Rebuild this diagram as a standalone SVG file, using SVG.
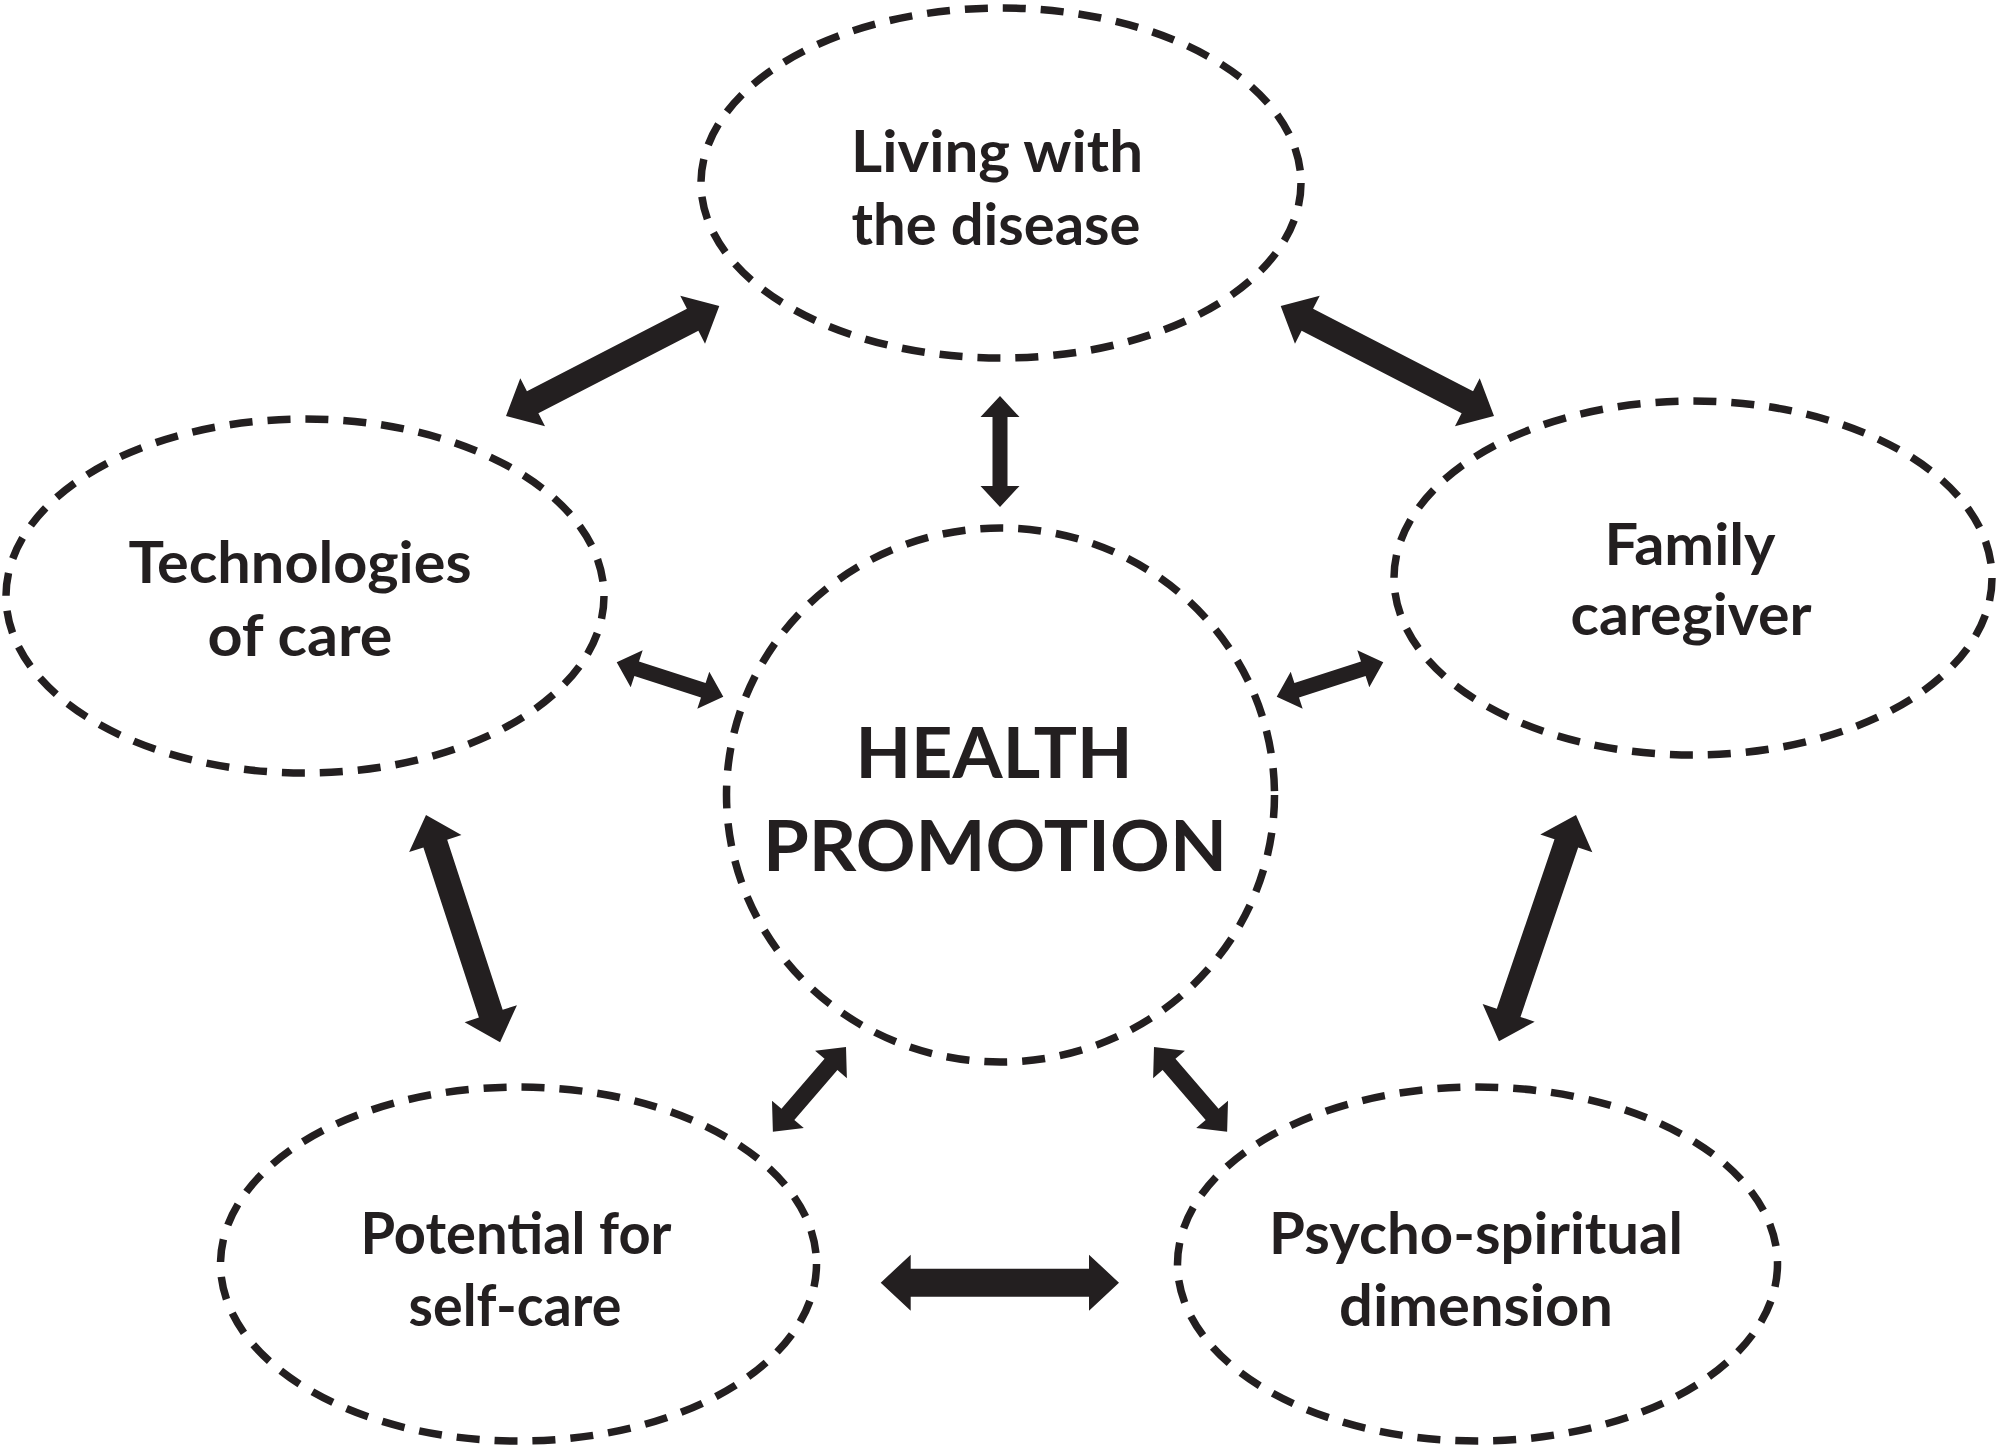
<svg xmlns="http://www.w3.org/2000/svg" width="2000" height="1450" viewBox="0 0 2000 1450">
<style>
.node ellipse{fill:none;stroke:#231f20;stroke-width:7.5;stroke-dasharray:23 15}
.lbl{font-family:Lato,"Open Sans","Liberation Sans",sans-serif;font-weight:bold;font-size:58px;fill:#231f20;text-anchor:middle}
.big{font-size:70px}
.arr path{fill:#231f20}
</style>
<rect width="2000" height="1450" fill="#ffffff"/>
<g id="living" class="node">
<ellipse cx="1001" cy="183" rx="300" ry="175"/>
<text class="lbl" x="997" y="172" textLength="292" lengthAdjust="spacingAndGlyphs">Living with</text>
<text class="lbl" x="996" y="245" textLength="289" lengthAdjust="spacingAndGlyphs">the disease</text>
</g>
<g id="technologies" class="node">
<ellipse cx="305" cy="596" rx="299" ry="177"/>
<text class="lbl" x="300" y="583" textLength="343" lengthAdjust="spacingAndGlyphs">Technologies</text>
<text class="lbl" x="300" y="656" textLength="185" lengthAdjust="spacingAndGlyphs">of care</text>
</g>
<g id="family" class="node">
<ellipse cx="1693" cy="578" rx="299" ry="177"/>
<text class="lbl" x="1690" y="565" textLength="171" lengthAdjust="spacingAndGlyphs">Family</text>
<text class="lbl" x="1691" y="635" textLength="241" lengthAdjust="spacingAndGlyphs">caregiver</text>
</g>
<g id="health" class="node">
<ellipse cx="1000.5" cy="795" rx="274" ry="267"/>
<text class="lbl big" x="994" y="778" textLength="277" lengthAdjust="spacingAndGlyphs">HEALTH</text>
<text class="lbl big" x="995" y="871" textLength="464" lengthAdjust="spacingAndGlyphs">PROMOTION</text>
</g>
<g id="potential" class="node">
<ellipse cx="518.5" cy="1264" rx="298" ry="177"/>
<text class="lbl" x="516" y="1254" textLength="311" lengthAdjust="spacingAndGlyphs">Potential for</text>
<text class="lbl" x="515" y="1326" textLength="213" lengthAdjust="spacingAndGlyphs">self-care</text>
</g>
<g id="psycho" class="node">
<ellipse cx="1477.5" cy="1264" rx="300" ry="177"/>
<text class="lbl" x="1476" y="1254" textLength="414" lengthAdjust="spacingAndGlyphs">Psycho-spiritual</text>
<text class="lbl" x="1476" y="1326" textLength="274" lengthAdjust="spacingAndGlyphs">dimension</text>
</g>
<g id="connectors" class="arr">
<path transform="translate(506,416) rotate(-27.28)" d="M0,0 L30,-27 L30,-12.5 L210,-12.5 L210,-27 L240,0 L210,27 L210,12.5 L30,12.5 L30,27 Z"/>
<path transform="translate(1494,416) rotate(-152.72)" d="M0,0 L30,-27 L30,-12.5 L210,-12.5 L210,-27 L240,0 L210,27 L210,12.5 L30,12.5 L30,27 Z"/>
<path transform="translate(1000,396) rotate(90)" d="M0,0 L21,-19.5 L21,-7.5 L90,-7.5 L90,-19.5 L111,0 L90,19.5 L90,7.5 L21,7.5 L21,19.5 Z"/>
<path transform="translate(616.7,662.3) rotate(17.88)" d="M0,0 L21,-19.5 L21,-7.5 L91,-7.5 L91,-19.5 L112,0 L91,19.5 L91,7.5 L21,7.5 L21,19.5 Z"/>
<path transform="translate(1383.3,662.3) rotate(162.12)" d="M0,0 L21,-19.5 L21,-7.5 L91,-7.5 L91,-19.5 L112,0 L91,19.5 L91,7.5 L21,7.5 L21,19.5 Z"/>
<path transform="translate(426,815) rotate(71.94)" d="M0,0 L30,-27.5 L30,-12.5 L209,-12.5 L209,-27.5 L239,0 L209,27.5 L209,12.5 L30,12.5 L30,27.5 Z"/>
<path transform="translate(1576,815) rotate(108.8)" d="M0,0 L30,-27.5 L30,-12.5 L209,-12.5 L209,-27.5 L239,0 L209,27.5 L209,12.5 L30,12.5 L30,27.5 Z"/>
<path transform="translate(846,1047) rotate(130.76)" d="M0,0 L23,-21 L23,-8.5 L89,-8.5 L89,-21 L112,0 L89,21 L89,8.5 L23,8.5 L23,21 Z"/>
<path transform="translate(1154,1047) rotate(49.24)" d="M0,0 L23,-21 L23,-8.5 L89,-8.5 L89,-21 L112,0 L89,21 L89,8.5 L23,8.5 L23,21 Z"/>
<path transform="translate(880.7,1282.7)" d="M0,0 L30,-28 L30,-14 L208.3,-14 L208.3,-28 L238.3,0 L208.3,28 L208.3,14 L30,14 L30,28 Z"/>
</g>
</svg>
